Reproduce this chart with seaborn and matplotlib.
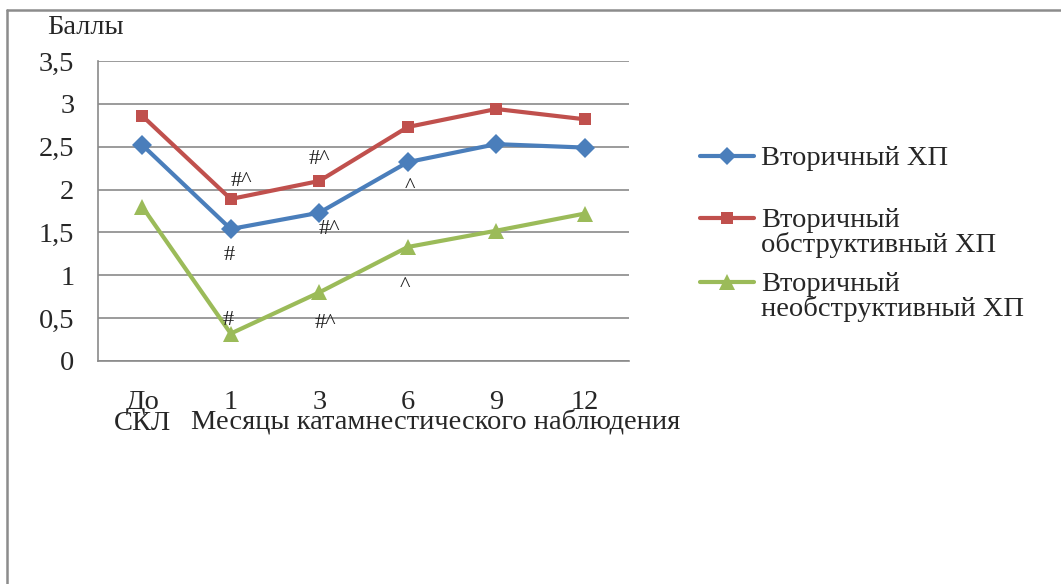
import numpy as np
import pandas as pd
import matplotlib
matplotlib.use("Agg")
import matplotlib.pyplot as plt
from matplotlib.lines import Line2D
from matplotlib.ticker import FixedLocator
import seaborn as sns

# --- data -----------------------------------------------------------------
periods = ["До\nСКЛ", "1", "3", "6", "9", "12"]
series_names = [
    "Вторичный ХП\n ",
    "Вторичный\nобструктивный ХП",
    "Вторичный\nнеобструктивный ХП",
]
secondary = [2.52, 1.54, 1.73, 2.32, 2.53, 2.49]
obstructive = [2.86, 1.89, 2.10, 2.73, 2.94, 2.82]
non_obstructive = [1.80, 0.32, 0.80, 1.33, 1.52, 1.72]

# significance marks: period index, horizontal nudge, height, text
marks_text = ["#^", "#^", "^", "#", "#^", "^", "#", "#^"]
marks_period = [1, 2, 3, 1, 2, 3, 1, 2]
marks_x_shift = [0.12, 0.0, 0.03, -0.02, 0.11, -0.03, -0.03, 0.07]
marks_y = [2.04, 2.30, 1.97, 1.18, 1.48, 0.82, 0.42, 0.385]

y_ticks = [0, 0.5, 1, 1.5, 2, 2.5, 3, 3.5]
y_tick_labels = ["0", "0,5", "1", "1,5", "2", "2,5", "3", "3,5"]

colors = ["#4A7EBB", "#C0504D", "#9BBB59"]
marker_styles = ["D", "s", "^"]
marker_sizes = [10, 9, 12]

# --- long-form table ------------------------------------------------------
rows = []
for name, vals in zip(series_names, [secondary, obstructive, non_obstructive]):
    for i, v in enumerate(vals):
        rows.append({"pos": i, "value": v, "series": name})
df = pd.DataFrame(rows)

# --- figure ---------------------------------------------------------------
sns.set_style("white")
plt.rcParams["font.family"] = ["Liberation Serif", "DejaVu Serif"]
FS = 20.5

fig = plt.figure(figsize=(10.61, 5.84), dpi=100)
ax = fig.add_axes([98 / 1061, 1 - 361 / 584, (629 - 98) / 1061, 300 / 584])

sns.lineplot(
    data=df, x="pos", y="value", hue="series", style="series",
    hue_order=series_names, style_order=series_names,
    palette=dict(zip(series_names, colors)),
    markers=dict(zip(series_names, marker_styles)),
    dashes=False, linewidth=3.0, markeredgewidth=0,
    ax=ax, legend=True,
)
for line, ms in zip(ax.lines[:3], marker_sizes):
    line.set_markersize(ms)
    line.set_solid_joinstyle("round")

ax.set_xlim(-0.5, len(periods) - 0.5)
ax.set_ylim(0, 3.5)

grey = "#8a8a8a"
ax.yaxis.set_major_locator(FixedLocator(y_ticks))
ax.set_yticklabels(y_tick_labels, fontsize=FS)
ax.grid(axis="y", color=grey, linewidth=1.2)
ax.grid(axis="x", visible=False)
ax.set_axisbelow(True)

ax.set_xticks(range(len(periods)))
ax.set_xticklabels(periods, fontsize=FS, linespacing=0.8)
ax.set_xticks(np.arange(-0.5, len(periods), 1.0), minor=True)
ax.tick_params(axis="x", which="major", length=0, pad=21)
ax.tick_params(axis="x", which="minor", length=5, width=1.2, color=grey, direction="out")
ax.tick_params(axis="y", which="major", length=5, width=1.2, color=grey, direction="out", pad=12)

for side in ["top", "right"]:
    ax.spines[side].set_visible(False)
for side in ["left", "bottom"]:
    ax.spines[side].set_color(grey)
    ax.spines[side].set_linewidth(1.2)

ax.set_xlabel("Месяцы катамнестического наблюдения", fontsize=FS)
ax.xaxis.label.set_va("center")
ax.xaxis.set_label_coords((436 - 98) / 531, (361 - 422) / 300)

ax.set_ylabel("Баллы", fontsize=FS, rotation=0, ha="left", va="center")
ax.yaxis.set_label_coords((47 - 98) / 531, (361 - 28) / 300)

# significance marks
for txt, p, dx, yy in zip(marks_text, marks_period, marks_x_shift, marks_y):
    ax.text(p + dx, yy, txt, fontsize=16, ha="center", va="baseline", color="#222222")

# legend
handles, labels = ax.get_legend_handles_labels()
if ax.get_legend():
    ax.get_legend().remove()
leg = ax.legend(
    handles, labels, loc="upper left",
    bbox_to_anchor=(700 / 1061, 1 - 146 / 584), bbox_transform=fig.transFigure,
    frameon=False, fontsize=FS, handlelength=1.9, handletextpad=0.25,
    labelspacing=0.47, borderpad=0, borderaxespad=0,
)
for t in leg.get_texts():
    t.set_linespacing(0.95)
for h, ms in zip(leg.legend_handles, [9, 8, 11]):
    h.set_markersize(ms)
try:
    for col in leg._legend_handle_box.get_children():
        for row in col.get_children():
            row.align = "top"
except AttributeError:
    pass

# outer frame (top and left edges)
fig.add_artist(Line2D([7 / 1061, 1.0], [1 - 9.5 / 584] * 2, transform=fig.transFigure,
                      color="#8c8c8c", linewidth=1.8))
fig.add_artist(Line2D([7 / 1061] * 2, [0.0, 1 - 9.5 / 584], transform=fig.transFigure,
                      color="#8c8c8c", linewidth=1.8))

fig.savefig("out.png", dpi=100)
